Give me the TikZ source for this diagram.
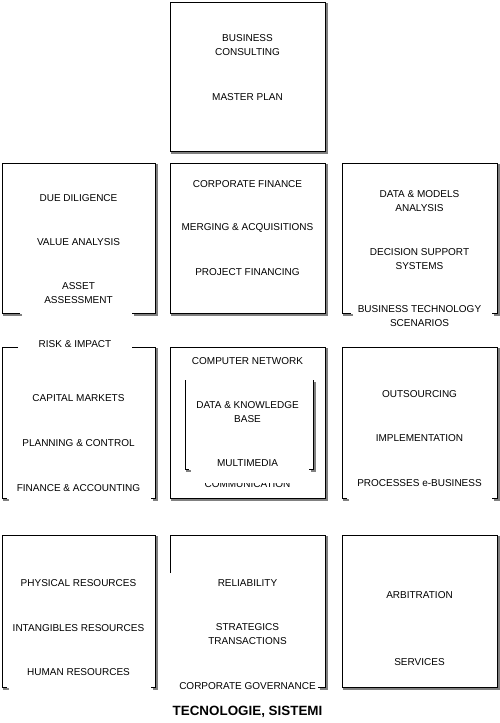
\documentclass[tikz,border=0pt]{standalone}
\usepackage{fontspec}
\setmainfont{Liberation Sans}
\tikzset{
  edgeline/.style={draw=black, line width=1pt},
  shadowline/.style={draw=black!50, line width=2pt, shift={(2,2)}},
  lbl/.style={font=\fontsize{10}{14}\selectfont, align=center, inner sep=0pt, yshift=-1pt},
  ttl/.style={font=\fontsize{13.4}{16}\selectfont\bfseries, inner sep=0pt},
}
\newcommand\shadowed[2]{\draw[shadowline] #2; \fill[white] #1; \draw[edgeline] #2;}
\begin{document}
\begin{tikzpicture}[x=1pt,y=-1pt]
\useasboundingbox (0,0) rectangle (500,723);
% top box
\shadowed{(170,2) rectangle (325,151)}{(170,2) rectangle (325,151)}
% row 2
\shadowed{(2,163) rectangle (155,313)}{(20,313) -- (2,313) -- (2,163) -- (155,163) -- (155,313) -- (132,313)}
\shadowed{(170,163) rectangle (325,313)}{(170,163) rectangle (325,313)}
\shadowed{(342,163) rectangle (497,313)}{(351,313) -- (342,313) -- (342,163) -- (497,163) -- (497,313) -- (492,313)}
% row 3
\shadowed{(2,347) rectangle (155,498)}{(18,347) -- (2,347) -- (2,498) -- (7,498) (132,347) -- (155,347) -- (155,498) -- (151,498)}
\shadowed{(170,347) rectangle (325,498)}{(170,347) rectangle (325,498)}
\shadowed{(185,380) rectangle (313,469)}{(185,380) -- (185,469) -- (189,469) (313,380) -- (313,469) -- (309,469)}
\shadowed{(342,347) rectangle (497,498)}{(347,498) -- (342,498) -- (342,347) -- (497,347) -- (497,498) -- (492,498)}
% row 4
\shadowed{(2,535) rectangle (155,687)}{(7,687) -- (2,687) -- (2,535) -- (155,535) -- (155,687) -- (151,687)}
\shadowed{(170,535) rectangle (325,687)}{(170,573) -- (170,535) -- (325,535) -- (325,687) -- (318,687)}
\shadowed{(342,535) rectangle (497,687)}{(342,535) rectangle (497,687)}

% texts top
\node[lbl] (bc) at (247.5,44.5) {BUSINESS\\CONSULTING};
\node[lbl] (mp) at (247.5,96) {MASTER PLAN};
% row 2 left
\node[lbl] (dd) at (78.5,197) {DUE DILIGENCE};
\node[lbl] (va) at (78.5,241) {VALUE ANALYSIS};
\node[lbl] (aa) at (78.5,292) {ASSET\\ASSESSMENT};
% row 2 middle
\node[lbl] (cf) at (247.5,183) {CORPORATE FINANCE};
\node[lbl] (ma) at (247.5,227) {MERGING \& ACQUISITIONS};
\node[lbl] (pf) at (247.5,271) {PROJECT FINANCING};
% row 2 right
\node[lbl] (dm) at (419.5,200) {DATA \& MODELS\\ANALYSIS};
\node[lbl] (ds) at (419.5,258) {DECISION SUPPORT\\SYSTEMS};
\node[lbl] (bt) at (419.5,315) {BUSINESS TECHNOLOGY\\SCENARIOS};
% risk
\node[lbl] (ri) at (75,343) {RISK \& IMPACT};
% row 3 left
\node[lbl] (cm) at (78.5,397) {CAPITAL MARKETS};
\node[lbl] (pc) at (78.5,442) {PLANNING \& CONTROL};
\node[lbl] (fa) at (78.5,487) {FINANCE \& ACCOUNTING};
% row 3 middle
\node[lbl] (cn) at (247.5,360) {COMPUTER NETWORK};
\node[lbl] (dk) at (247.5,411) {DATA \& KNOWLEDGE\\BASE};
\node[lbl] (mm) at (247.5,462) {MULTIMEDIA};
\begin{scope}
\clip (195,483) rectangle (300,492);
\node[lbl] (co) at (247.5,483.5) {COMMUNICATION};
\end{scope}
% row 3 right
\node[lbl] (os) at (419.5,393) {OUTSOURCING};
\node[lbl] (im) at (419.5,437) {IMPLEMENTATION};
\node[lbl] (pe) at (419.5,482) {PROCESSES e-BUSINESS};
% row 4 left
\node[lbl] (pr) at (78.5,582) {PHYSICAL RESOURCES};
\node[lbl] (ir) at (78.5,627) {INTANGIBLES RESOURCES};
\node[lbl] (hr) at (78.5,671) {HUMAN RESOURCES};
% row 4 middle
\node[lbl] (rl) at (247.5,582) {RELIABILITY};
\node[lbl] (st) at (247.5,633) {STRATEGICS\\TRANSACTIONS};
\node[lbl] (cg) at (247.5,685) {CORPORATE GOVERNANCE};
% row 4 right
\node[lbl] (ar) at (419.5,594) {ARBITRATION};
\node[lbl] (sv) at (419.5,661) {SERVICES};
% title
\node[ttl] (ti) at (247.5,712) {TECNOLOGIE, SISTEMI};
\end{tikzpicture}
\end{document}
